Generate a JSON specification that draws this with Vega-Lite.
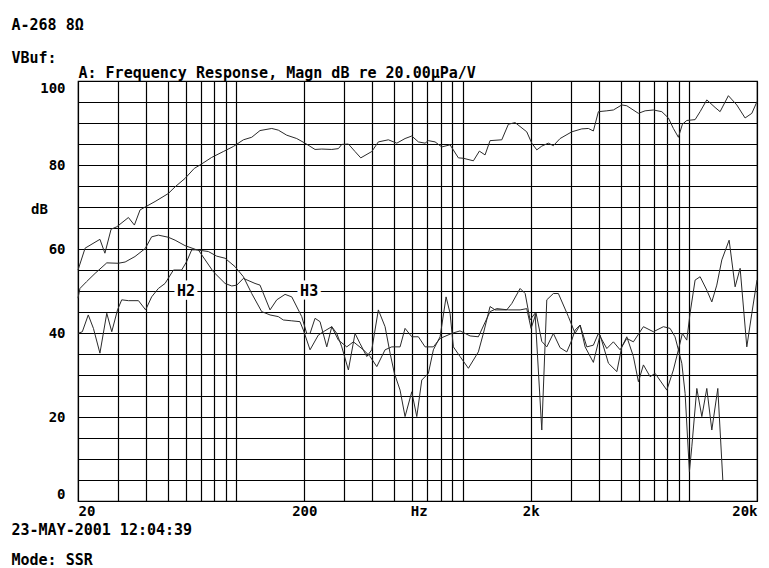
{
  "$schema": "https://vega.github.io/schema/vega-lite/v6.json",
  "width": 679,
  "height": 420,
  "autosize": {"type": "none"},
  "padding": {"left": 78, "top": 81, "right": 12, "bottom": 67},
  "background": "white",
  "config": {"view": {"stroke": "black", "strokeWidth": 1.2}, "font": "DejaVu Sans Mono"},
  "datasets": {
    "curves": [
      {"series":"Response","freq":20,"db":55},{"series":"Response","freq":21.5,"db":60.2},{"series":"Response","freq":25,"db":62.3},{"series":"Response","freq":26.3,"db":59},{"series":"Response","freq":28,"db":64.7},{"series":"Response","freq":29.7,"db":65.3},{"series":"Response","freq":33.4,"db":67.5},{"series":"Response","freq":35.5,"db":65.7},{"series":"Response","freq":37.6,"db":69.3},{"series":"Response","freq":39.6,"db":70},{"series":"Response","freq":43.8,"db":71.3},{"series":"Response","freq":50.1,"db":73.2},{"series":"Response","freq":53.7,"db":74.8},{"series":"Response","freq":59.4,"db":76.8},{"series":"Response","freq":65.3,"db":79.2},{"series":"Response","freq":69.2,"db":80},{"series":"Response","freq":77.9,"db":81.8},{"series":"Response","freq":87.7,"db":83.2},{"series":"Response","freq":97.1,"db":84.4},{"series":"Response","freq":107.6,"db":86},{"series":"Response","freq":117.1,"db":86.6},{"series":"Response","freq":127.4,"db":88.2},{"series":"Response","freq":143.6,"db":88.7},{"series":"Response","freq":153.5,"db":88.3},{"series":"Response","freq":167.2,"db":87.1},{"series":"Response","freq":185.1,"db":86.3},{"series":"Response","freq":201.4,"db":85.2},{"series":"Response","freq":223,"db":83.7},{"series":"Response","freq":238.8,"db":83.8},{"series":"Response","freq":264.4,"db":83.7},{"series":"Response","freq":282.8,"db":83.9},{"series":"Response","freq":292.7,"db":84.9},{"series":"Response","freq":313.1,"db":85},{"series":"Response","freq":335,"db":83.2},{"series":"Response","freq":355.1,"db":81.7},{"series":"Response","freq":397.1,"db":83.2},{"series":"Response","freq":424.7,"db":85.5},{"series":"Response","freq":470.2,"db":86},{"series":"Response","freq":512.5,"db":85.2},{"series":"Response","freq":557.2,"db":86.3},{"series":"Response","freq":596.7,"db":86.9},{"series":"Response","freq":638.2,"db":85.5},{"series":"Response","freq":683.2,"db":85.2},{"series":"Response","freq":706.5,"db":85.8},{"series":"Response","freq":756.3,"db":85.5},{"series":"Response","freq":809.8,"db":84.3},{"series":"Response","freq":880.9,"db":84.8},{"series":"Response","freq":958.6,"db":81.7},{"series":"Response","freq":1008.6,"db":81.6},{"series":"Response","freq":1116.8,"db":81},{"series":"Response","freq":1186.8,"db":83.3},{"series":"Response","freq":1257.5,"db":82.4},{"series":"Response","freq":1323.2,"db":85.8},{"series":"Response","freq":1490.8,"db":86},{"series":"Response","freq":1594.4,"db":89.7},{"series":"Response","freq":1707.3,"db":90.1},{"series":"Response","freq":1921.6,"db":87.9},{"series":"Response","freq":2022.7,"db":85.2},{"series":"Response","freq":2128.6,"db":83.6},{"series":"Response","freq":2239.6,"db":84.5},{"series":"Response","freq":2394.6,"db":85.2},{"series":"Response","freq":2519.5,"db":84.6},{"series":"Response","freq":2697.9,"db":86.3},{"series":"Response","freq":3038.7,"db":87.9},{"series":"Response","freq":3364.9,"db":88.6},{"series":"Response","freq":3597.9,"db":88.7},{"series":"Response","freq":3785.2,"db":88.1},{"series":"Response","freq":3983.5,"db":92.7},{"series":"Response","freq":4339.9,"db":92.9},{"series":"Response","freq":4640.8,"db":93.1},{"series":"Response","freq":5054.1,"db":94.3},{"series":"Response","freq":5318.4,"db":94.1},{"series":"Response","freq":5983.8,"db":92.3},{"series":"Response","freq":6407.5,"db":92.9},{"series":"Response","freq":6969.6,"db":93.1},{"series":"Response","freq":7592.6,"db":92.7},{"series":"Response","freq":8119.1,"db":91.2},{"series":"Response","freq":8543.2,"db":88.7},{"series":"Response","freq":8990,"db":86.6},{"series":"Response","freq":9363.8,"db":89.7},{"series":"Response","freq":9791.3,"db":90.6},{"series":"Response","freq":10654,"db":90.8},{"series":"Response","freq":11210,"db":92.7},{"series":"Response","freq":12002,"db":95.5},{"series":"Response","freq":13057,"db":93.7},{"series":"Response","freq":13738,"db":92.7},{"series":"Response","freq":14948,"db":96.5},{"series":"Response","freq":16281,"db":94.3},{"series":"Response","freq":17716,"db":91.2},{"series":"Response","freq":18975,"db":92.3},{"series":"Response","freq":20000,"db":95.1},
      {"series":"H2","freq":20,"db":48.3},{"series":"H2","freq":20.4,"db":50.6},{"series":"H2","freq":21.8,"db":52.2},{"series":"H2","freq":23.8,"db":54.2},{"series":"H2","freq":26.8,"db":56.7},{"series":"H2","freq":30.1,"db":56.6},{"series":"H2","freq":32.3,"db":56.9},{"series":"H2","freq":35.7,"db":58.2},{"series":"H2","freq":39.6,"db":60.1},{"series":"H2","freq":42.3,"db":62.9},{"series":"H2","freq":45.3,"db":63.3},{"series":"H2","freq":50.1,"db":62.8},{"series":"H2","freq":53.7,"db":62.1},{"series":"H2","freq":59.4,"db":60.8},{"series":"H2","freq":66.9,"db":59.8},{"series":"H2","freq":75.3,"db":59.4},{"series":"H2","freq":82,"db":58.3},{"series":"H2","freq":89.3,"db":57.8},{"series":"H2","freq":98.8,"db":55.8},{"series":"H2","freq":107.6,"db":53.4},{"series":"H2","freq":117.1,"db":49.4},{"series":"H2","freq":129.6,"db":45.1},{"series":"H2","freq":141.1,"db":44.3},{"series":"H2","freq":153.5,"db":43.9},{"series":"H2","freq":161.5,"db":43.1},{"series":"H2","freq":176,"db":42.9},{"series":"H2","freq":191.3,"db":42.7},{"series":"H2","freq":198,"db":40.7},{"series":"H2","freq":212,"db":36},{"series":"H2","freq":230.6,"db":39.5},{"series":"H2","freq":242.7,"db":40.3},{"series":"H2","freq":264.4,"db":41.5},{"series":"H2","freq":282.8,"db":38.3},{"series":"H2","freq":308,"db":36.7},{"series":"H2","freq":329.4,"db":37.9},{"series":"H2","freq":364.7,"db":36},{"series":"H2","freq":390.4,"db":34.4},{"series":"H2","freq":417.9,"db":32},{"series":"H2","freq":454.7,"db":36},{"series":"H2","freq":486.7,"db":36.7},{"series":"H2","freq":529.7,"db":36.7},{"series":"H2","freq":557.2,"db":41.1},{"series":"H2","freq":596.7,"db":39.1},{"series":"H2","freq":638.2,"db":39.1},{"series":"H2","freq":683.2,"db":36.7},{"series":"H2","freq":743.3,"db":36.7},{"series":"H2","freq":795.9,"db":38.7},{"series":"H2","freq":896.2,"db":39.9},{"series":"H2","freq":975,"db":40.5},{"series":"H2","freq":1079.8,"db":39.3},{"series":"H2","freq":1174.8,"db":39.1},{"series":"H2","freq":1323.2,"db":45.1},{"series":"H2","freq":1416.7,"db":45.8},{"series":"H2","freq":1594.4,"db":45.5},{"series":"H2","freq":1796.6,"db":45.5},{"series":"H2","freq":1921.6,"db":45.8},{"series":"H2","freq":2008.3,"db":41.1},{"series":"H2","freq":2113.5,"db":44.7},{"series":"H2","freq":2239.6,"db":38},{"series":"H2","freq":2356.4,"db":36.7},{"series":"H2","freq":2519.5,"db":39.9},{"series":"H2","freq":2697.9,"db":36.5},{"series":"H2","freq":2888.5,"db":35.5},{"series":"H2","freq":3038.7,"db":38.3},{"series":"H2","freq":3142.9,"db":40.7},{"series":"H2","freq":3307.1,"db":41.9},{"series":"H2","freq":3540.5,"db":36.7},{"series":"H2","freq":3785.2,"db":37.1},{"series":"H2","freq":3983.5,"db":39.9},{"series":"H2","freq":4339.9,"db":36.3},{"series":"H2","freq":4640.8,"db":37.9},{"series":"H2","freq":4968.9,"db":36},{"series":"H2","freq":5318.4,"db":38.7},{"series":"H2","freq":5687.9,"db":37.9},{"series":"H2","freq":6298,"db":41.5},{"series":"H2","freq":6969.6,"db":40.3},{"series":"H2","freq":7717.6,"db":41.5},{"series":"H2","freq":8258,"db":41.1},{"series":"H2","freq":8684.5,"db":39.1},{"series":"H2","freq":8990,"db":36},{"series":"H2","freq":9363.8,"db":39.9},{"series":"H2","freq":9791.3,"db":38.3},{"series":"H2","freq":10124,"db":44.7},{"series":"H2","freq":10654,"db":52.6},{"series":"H2","freq":11210,"db":53.4},{"series":"H2","freq":12002,"db":50.2},{"series":"H2","freq":12630,"db":47.4},{"series":"H2","freq":13286,"db":51.4},{"series":"H2","freq":13982,"db":57.4},{"series":"H2","freq":15063,"db":62.1},{"series":"H2","freq":16009,"db":51},{"series":"H2","freq":16846,"db":55.4},{"series":"H2","freq":18029,"db":36.7},{"series":"H2","freq":18975,"db":44.7},{"series":"H2","freq":20000,"db":52.6},
      {"series":"H3","freq":20,"db":39.9},{"series":"H3","freq":20.9,"db":40.3},{"series":"H3","freq":22.2,"db":44.3},{"series":"H3","freq":23.4,"db":41.1},{"series":"H3","freq":25,"db":35.2},{"series":"H3","freq":26.8,"db":44.7},{"series":"H3","freq":28.2,"db":40.3},{"series":"H3","freq":29.9,"db":45.5},{"series":"H3","freq":31.2,"db":47.9},{"series":"H3","freq":33.4,"db":47.7},{"series":"H3","freq":37,"db":47.7},{"series":"H3","freq":39.8,"db":45.5},{"series":"H3","freq":42.3,"db":48.6},{"series":"H3","freq":45.3,"db":50.6},{"series":"H3","freq":48.5,"db":51.8},{"series":"H3","freq":52.8,"db":55},{"series":"H3","freq":57.4,"db":55},{"series":"H3","freq":60.4,"db":57},{"series":"H3","freq":63.6,"db":59.8},{"series":"H3","freq":68,"db":59.8},{"series":"H3","freq":79.2,"db":54.6},{"series":"H3","freq":89.3,"db":51.8},{"series":"H3","freq":95.6,"db":51.2},{"series":"H3","freq":100.6,"db":51.4},{"series":"H3","freq":107.6,"db":53},{"series":"H3","freq":121.1,"db":51.8},{"series":"H3","freq":127.4,"db":51.4},{"series":"H3","freq":141.1,"db":45.5},{"series":"H3","freq":151.1,"db":47.9},{"series":"H3","freq":164.4,"db":49.2},{"series":"H3","freq":176,"db":48.6},{"series":"H3","freq":194.8,"db":43.9},{"series":"H3","freq":204.9,"db":39.9},{"series":"H3","freq":212,"db":39.9},{"series":"H3","freq":223,"db":43.5},{"series":"H3","freq":234.6,"db":42.7},{"series":"H3","freq":251.3,"db":36.7},{"series":"H3","freq":264.4,"db":41.5},{"series":"H3","freq":278.2,"db":39.9},{"series":"H3","freq":292.7,"db":36.7},{"series":"H3","freq":313.1,"db":31.2},{"series":"H3","freq":335,"db":39.9},{"series":"H3","freq":352.5,"db":37.5},{"series":"H3","freq":377.4,"db":34.4},{"series":"H3","freq":397.1,"db":36},{"series":"H3","freq":424.7,"db":45.5},{"series":"H3","freq":454.7,"db":41.5},{"series":"H3","freq":478.5,"db":35.2},{"series":"H3","freq":499.9,"db":30.4},{"series":"H3","freq":529.7,"db":26.4},{"series":"H3","freq":557.2,"db":20.1},{"series":"H3","freq":596.7,"db":26},{"series":"H3","freq":627.9,"db":20.1},{"series":"H3","freq":660.6,"db":28.8},{"series":"H3","freq":706.5,"db":30.4},{"series":"H3","freq":743.3,"db":36},{"series":"H3","freq":795.9,"db":39.1},{"series":"H3","freq":845.9,"db":48.6},{"series":"H3","freq":880.9,"db":44.7},{"series":"H3","freq":910.9,"db":36.7},{"series":"H3","freq":975,"db":34.4},{"series":"H3","freq":1061.3,"db":31.6},{"series":"H3","freq":1174.8,"db":35.5},{"series":"H3","freq":1236.2,"db":39.9},{"series":"H3","freq":1323.2,"db":46.3},{"series":"H3","freq":1392.3,"db":45.5},{"series":"H3","freq":1567.9,"db":45.5},{"series":"H3","freq":1649.7,"db":47},{"series":"H3","freq":1796.6,"db":50.6},{"series":"H3","freq":1890.8,"db":49.4},{"series":"H3","freq":1987.6,"db":43.1},{"series":"H3","freq":2091.6,"db":44.7},{"series":"H3","freq":2239.6,"db":16.9},{"series":"H3","freq":2356.4,"db":47.9},{"series":"H3","freq":2519.5,"db":49.4},{"series":"H3","freq":2651.1,"db":49.4},{"series":"H3","freq":2935.9,"db":43.9},{"series":"H3","freq":3142.9,"db":39.9},{"series":"H3","freq":3307.1,"db":41.9},{"series":"H3","freq":3479.8,"db":36.7},{"series":"H3","freq":3785.2,"db":33},{"series":"H3","freq":4053.6,"db":39.5},{"series":"H3","freq":4411.4,"db":32.8},{"series":"H3","freq":4805.5,"db":30.8},{"series":"H3","freq":5054.1,"db":36.7},{"series":"H3","freq":5318.4,"db":39.1},{"series":"H3","freq":5687.9,"db":34.4},{"series":"H3","freq":5985,"db":28.4},{"series":"H3","freq":6298,"db":32.4},{"series":"H3","freq":6742.7,"db":29.6},{"series":"H3","freq":7093.3,"db":30.4},{"series":"H3","freq":7991.1,"db":26.4},{"series":"H3","freq":8543.2,"db":31.2},{"series":"H3","freq":8990,"db":36},{"series":"H3","freq":9306.8,"db":32.8},{"series":"H3","freq":9625.1,"db":25.6},{"series":"H3","freq":10055,"db":7},{"series":"H3","freq":10303,"db":12.9},{"series":"H3","freq":10843,"db":26.8},{"series":"H3","freq":11410,"db":20.1},{"series":"H3","freq":12002,"db":26.8},{"series":"H3","freq":12630,"db":16.9},{"series":"H3","freq":13423,"db":26.8},{"series":"H3","freq":14125,"db":5}
    ],
    "labels": [
      {"lab": "H2", "freq": 60, "db": 50},
      {"lab": "H3", "freq": 210, "db": 50}
    ]
  },
  "layer": [
    {
      "data": {"name": "curves"},
      "mark": {"type": "line", "color": "#2a2a2a", "strokeWidth": 1},
      "encoding": {
        "x": {
          "field": "freq", "type": "quantitative",
          "scale": {"type": "log", "domain": [20, 20000], "nice": false},
          "axis": {
            "orient": "bottom",
            "values": [20, 30, 40, 50, 60, 70, 80, 90, 100, 200, 300, 400, 500, 600, 640, 700, 800, 900, 1000, 2000, 3000, 4000, 5000, 6000, 7000, 8000, 9000, 10000, 20000],
            "labelExpr": "datum.value == 20 ? '20' : datum.value == 200 ? '200' : datum.value == 640 ? 'Hz' : datum.value == 2000 ? '2k' : datum.value == 20000 ? '20k' : ''",
            "labelOverlap": false,
            "labelFlush": true,
            "labelFont": "DejaVu Sans Mono",
            "labelFontSize": 14,
            "labelFontWeight": "bold",
            "labelColor": "black",
            "labelPadding": 3,
            "labelBaseline": "top",
            "ticks": false,
            "domain": false,
            "grid": true,
            "gridColor": "black",
            "gridWidth": 1.2,
            "gridOpacity": {"condition": {"test": "datum.value == 640", "value": 0}, "value": 1},
            "title": ["23-MAY-2001 12:04:39", "Mode: SSR"],
            "titleX": -67,
            "titleY": 33,
            "titleAlign": "left",
            "titleAnchor": "start",
            "titleBaseline": "alphabetic",
            "titleLineHeight": 30,
            "titleFont": "DejaVu Sans Mono",
            "titleFontSize": 15,
            "titleFontWeight": "bold",
            "titleColor": "black"
          }
        },
        "y": {
          "field": "db", "type": "quantitative",
          "scale": {"domain": [0, 100], "nice": false},
          "axis": {
            "orient": "left",
            "values": [0, 5, 10, 15, 20, 25, 30, 35, 40, 45, 50, 55, 60, 65, 70, 75, 80, 85, 90, 95, 100],
            "labelExpr": "datum.value % 20 === 0 ? datum.label : ''",
            "labelOverlap": false,
            "labelFlush": true,
            "labelFont": "DejaVu Sans Mono",
            "labelFontSize": 14,
            "labelFontWeight": "bold",
            "labelColor": "black",
            "labelPadding": 13,
            "ticks": false,
            "domain": false,
            "grid": true,
            "gridColor": "black",
            "gridWidth": 1.2,
            "title": "dB",
            "titleAngle": 0,
            "titleX": -39,
            "titleY": 128,
            "titleAlign": "center",
            "titleBaseline": "middle",
            "titleFont": "DejaVu Sans Mono",
            "titleFontSize": 14,
            "titleFontWeight": "bold",
            "titleColor": "black"
          }
        },
        "detail": {"field": "series"}
      }
    },
    {
      "data": {"name": "labels"},
      "mark": {"type": "text", "fill": "white", "stroke": "white", "strokeWidth": 7, "font": "DejaVu Sans Mono", "fontSize": 15, "fontWeight": "bold"},
      "encoding": {
        "x": {
          "field": "freq", "type": "quantitative",
          "axis": {
            "orient": "top", "labels": false, "ticks": false, "domain": false, "grid": false,
            "title": "A: Frequency Response, Magn dB re 20.00µPa/V",
            "titleX": 0, "titleY": -4,
            "titleAlign": "left", "titleAnchor": "start", "titleBaseline": "alphabetic",
            "titleFont": "DejaVu Sans Mono", "titleFontSize": 15, "titleFontWeight": "bold", "titleColor": "black"
          }
        },
        "y": {
          "field": "db", "type": "quantitative",
          "axis": {
            "orient": "right", "labels": false, "ticks": false, "domain": false, "grid": false,
            "title": ["A-268 8Ω", "VBuf:"],
            "titleAngle": 0, "titleX": -746, "titleY": -52,
            "titleAlign": "left", "titleBaseline": "alphabetic", "titleLineHeight": 33,
            "titleFont": "DejaVu Sans Mono", "titleFontSize": 15, "titleFontWeight": "bold", "titleColor": "black"
          }
        },
        "text": {"field": "lab"}
      }
    },
    {
      "data": {"name": "labels"},
      "mark": {"type": "text", "fill": "black", "font": "DejaVu Sans Mono", "fontSize": 15, "fontWeight": "bold"},
      "encoding": {
        "x": {"field": "freq", "type": "quantitative", "axis": null},
        "y": {"field": "db", "type": "quantitative", "axis": null},
        "text": {"field": "lab"}
      }
    }
  ],
  "resolve": {"axis": {"x": "independent", "y": "independent"}}
}
